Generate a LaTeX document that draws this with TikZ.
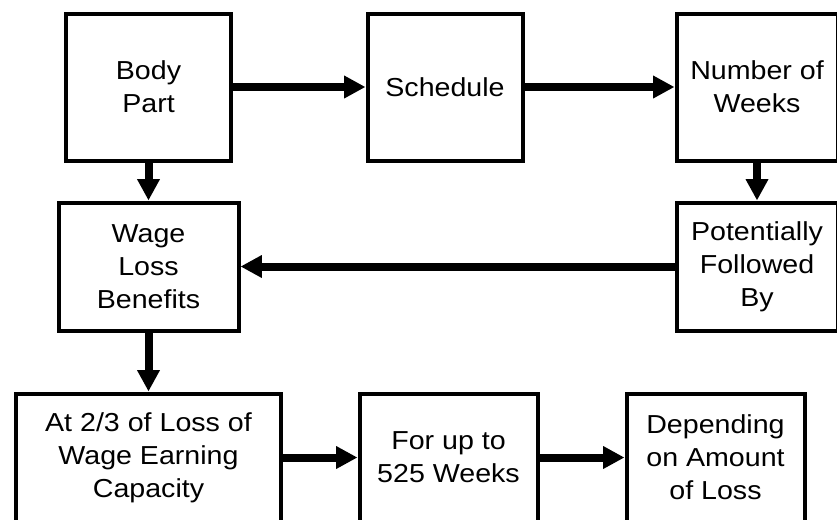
\documentclass[tikz,border=0pt]{standalone}
\usepackage{fontspec}
\setmainfont{Liberation Sans}[FakeStretch=1.1]
\usetikzlibrary{arrows.meta}
\begin{document}
\begin{tikzpicture}[x=0.75pt,y=-0.75pt,
  box/.style={draw=black, line width=3pt, inner sep=0pt, align=center,
    font=\fontsize{19.5}{24.75}\selectfont},
  flow/.style={line width=6pt, -{Triangle[length=16pt,width=16pt]}}]
\fill[white] (0,0) rectangle (837,519);
\useasboundingbox (0,0) rectangle (837,519);
\clip (0,0) rectangle (837,519);

% top row
\node[box, minimum width=165*0.75pt, minimum height=147*0.75pt] (body) at (148.5,87) {Body\\Part};
\node[box, minimum width=155*0.75pt, minimum height=147*0.75pt] (sched) at (445,87) {Schedule};
\node[box, minimum width=161*0.75pt, minimum height=147*0.75pt] (weeks) at (757,87) {Number of\\Weeks};

% middle row
\node[box, minimum width=180*0.75pt, minimum height=128*0.75pt] (wage) at (148.5,266.5) {Wage\\Loss\\Benefits};
\node[box, minimum width=161*0.75pt, minimum height=128*0.75pt] (follow) at (757,266.5) {Potentially\\Followed\\By};

% bottom row
\node[box, minimum width=265*0.75pt, minimum height=128*0.75pt] (rate) at (148.5,457.5) {At 2/3 of Loss of\\Wage Earning\\Capacity};
\node[box, minimum width=178*0.75pt, minimum height=128*0.75pt] (upto) at (448.5,457.5) {For up to\\525 Weeks};
\node[box, minimum width=178*0.75pt, minimum height=128*0.75pt] (amount) at (715.5,457.5) {Depending\\on Amount\\of Loss};

% connectors
\draw[flow] (body.east) -- (sched.west);
\draw[flow] (sched.east) -- (weeks.west);
\draw[flow] (body.south) -- (wage.north);
\draw[flow] (weeks.south) -- (follow.north);
\draw[flow] (follow.west) -- (wage.east);
\draw[flow] (wage.south) -- (rate.north);
\draw[flow] (rate.east) -- (upto.west);
\draw[flow] (upto.east) -- (amount.west);
\end{tikzpicture}
\end{document}
